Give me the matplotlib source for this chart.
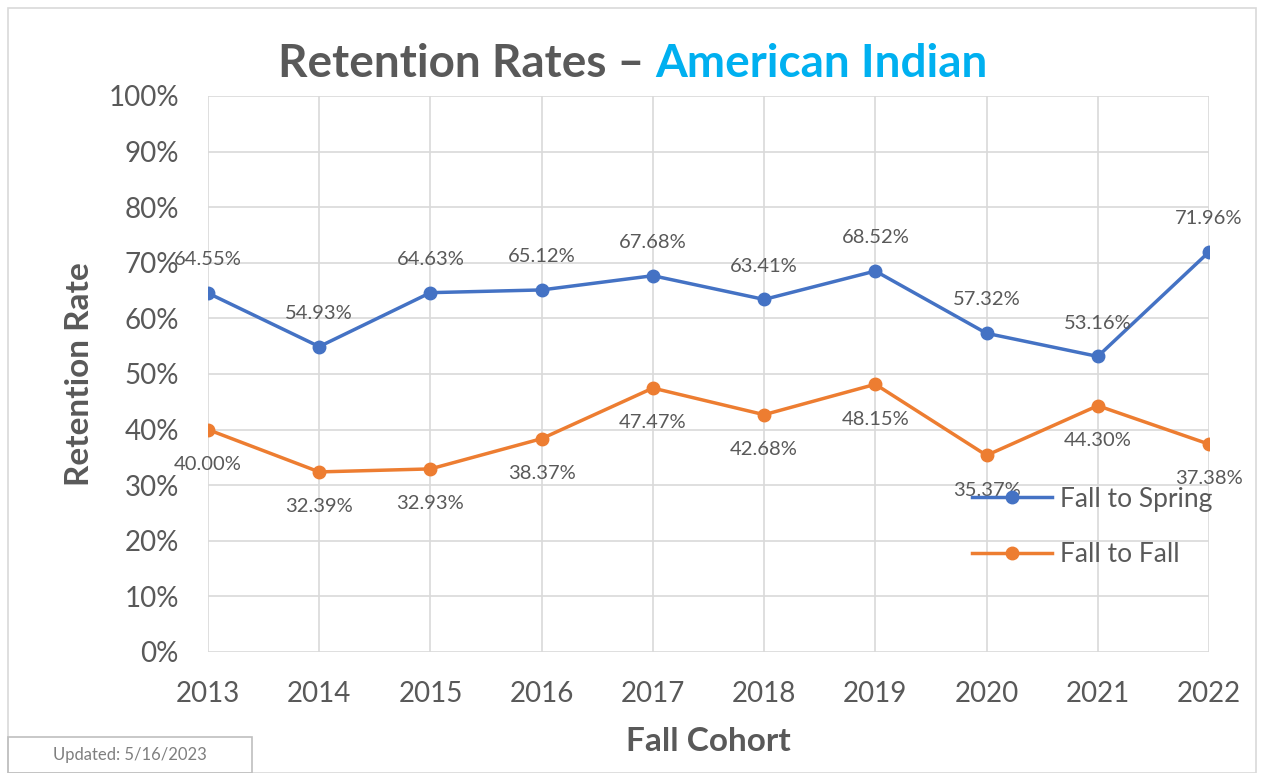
import matplotlib.pyplot as plt
from matplotlib.patches import Rectangle

years = ['2013', '2014', '2015', '2016', '2017', '2018', '2019', '2020', '2021', '2022']
fall_to_spring = [64.55, 54.93, 64.63, 65.12, 67.68, 63.41, 68.52, 57.32, 53.16, 71.96]
fall_to_fall = [40.00, 32.39, 32.93, 38.37, 47.47, 42.68, 48.15, 35.37, 44.30, 37.38]
yticks = [0, 10, 20, 30, 40, 50, 60, 70, 80, 90, 100]

blue = '#4472C4'
orange = '#ED7D31'
grey_txt = '#595959'
plt.rcParams['font.family'] = ['Lato', 'DejaVu Sans']

W, H = 1262, 773
fig = plt.figure(figsize=(W / 100, H / 100), dpi=100)
ax = fig.add_axes([208 / W, 1 - 652 / H, (1209 - 208) / W, (652 - 96) / H])

x = list(range(len(years)))
ax.plot(x, fall_to_spring, color=blue, lw=2.5, marker='o', ms=9, label='Fall to Spring', zorder=3)
ax.plot(x, fall_to_fall, color=orange, lw=2.5, marker='o', ms=9, label='Fall to Fall', zorder=3)

for xi, v in zip(x, fall_to_spring):
    ax.annotate(f'{v:.2f}%', (xi, v), xytext=(0, 24), textcoords='offset points',
                ha='center', va='center', fontsize=14.5, color=grey_txt)
for xi, v in zip(x, fall_to_fall):
    ax.annotate(f'{v:.2f}%', (xi, v), xytext=(0, -25), textcoords='offset points',
                ha='center', va='center', fontsize=14.5, color=grey_txt)

ax.set_xlim(0, len(years) - 1)
ax.set_ylim(0, 100)
ax.set_xticks(x)
ax.set_xticklabels(years)
ax.set_yticks(yticks)
ax.set_yticklabels([f'{t}%' for t in yticks])
ax.tick_params(length=0, labelsize=20, labelcolor=grey_txt)
ax.tick_params(axis='x', pad=21)
ax.tick_params(axis='y', pad=21)
ax.grid(True, color='#D9D9D9', lw=1.2)
ax.set_axisbelow(True)
for s in ax.spines.values():
    s.set_visible(False)

ax.set_ylabel('Retention Rate', fontsize=24, fontweight='bold', color=grey_txt, labelpad=10)
ax.set_xlabel('Fall Cohort', fontsize=24, fontweight='bold', color=grey_txt, labelpad=14)

ax.legend(loc='upper left', bbox_to_anchor=(0.74, 0.34), frameon=False, fontsize=19,
          labelcolor=grey_txt, handlelength=3, labelspacing=1.15, handletextpad=0.3)

fig.text(0.519, 1 - 77 / H, 'Retention Rates \u2013 ', ha='right', va='baseline',
         fontsize=33, fontweight='bold', color=grey_txt)
fig.text(0.519, 1 - 77 / H, 'American Indian', ha='left', va='baseline',
         fontsize=33, fontweight='bold', color='#00B0F0')

fig.patches.append(Rectangle((8 / W, 0), (1256 - 8) / W, 1 - 8 / H, transform=fig.transFigure,
                             fill=False, ec='#D9D9D9', lw=1.2))
fig.patches.append(Rectangle((8 / W, 0), (252 - 8) / W, (773 - 737) / H, transform=fig.transFigure,
                             fill=False, ec='#BFBFBF', lw=1.2))
fig.text(130 / W, 1 - 755 / H, 'Updated: 5/16/2023', ha='center', va='center',
         fontsize=12, color='#7F7F7F')

fig.savefig('out.png', dpi=100)
